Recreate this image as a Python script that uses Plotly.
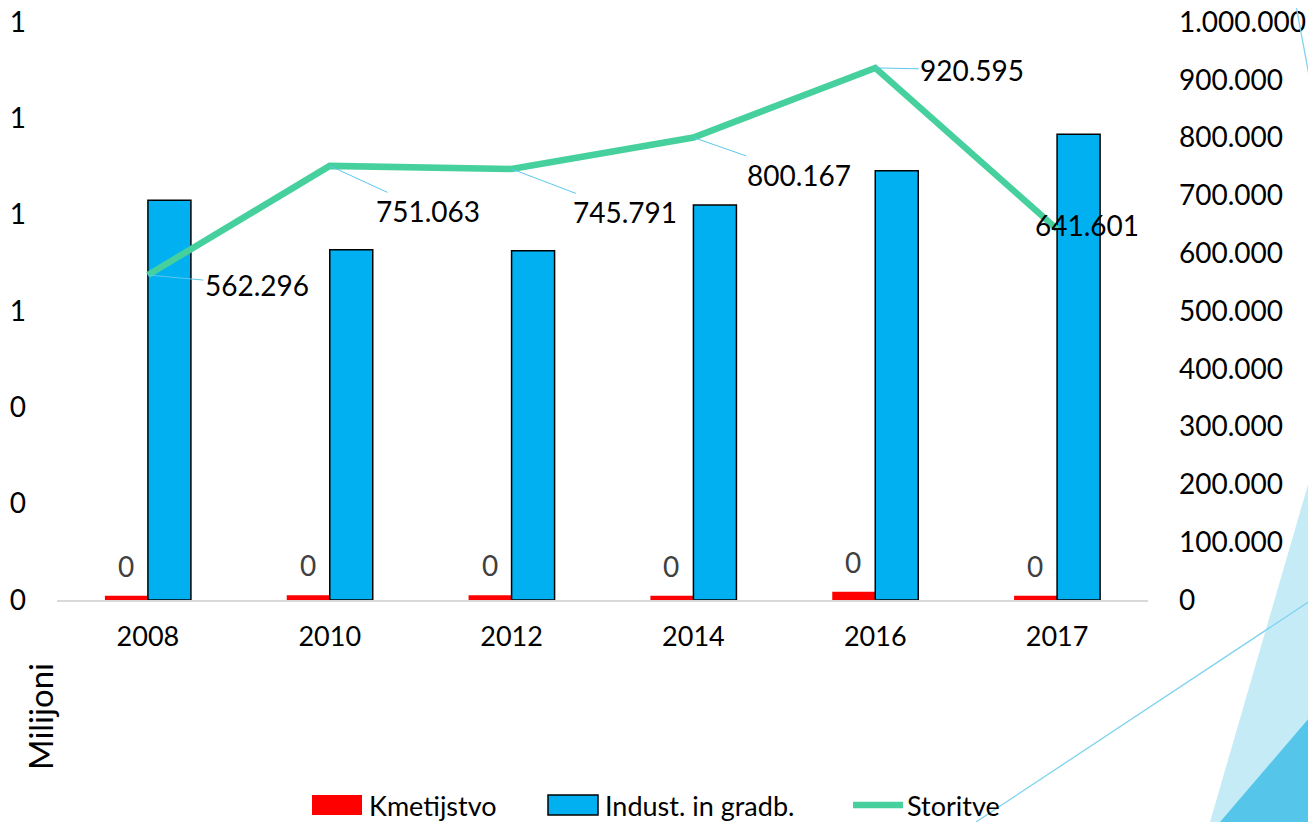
import plotly.graph_objects as go

# Data
years = ["2008", "2010", "2012", "2014", "2016", "2017"]
kmetijstvo = [0.009, 0.010, 0.010, 0.009, 0.017, 0.009]       # milijoni
industrija = [0.830, 0.727, 0.725, 0.820, 0.891, 0.967]       # milijoni
storitve = [562296, 751063, 745791, 800167, 920595, 641601]

series_names = ["Kmetijstvo", "Indust. in gradb.", "Storitve"]
colors = ["#FF0000", "#00B0F0", "#45D09E"]

# label offsets (pixels) for the Storitve data labels
label_offsets = [(109, 10), (98, 45), (113, 43), (106, 37), (97, 2), (30, -4)]

FONT = "Lato"
PAGE = 8                      # default body margin of the html page
W, H = 1316 - PAGE, 822 - PAGE
# plot area in page pixels: x 57..1148, y 22..600
X0, X1, Y0, Y1 = 57, 1148, 22, 600
L, R, T, B = X0 - PAGE, 1316 - X1, Y0 - PAGE, 822 - Y1


def px(x):
    return (x - X0) / (X1 - X0)


def py(y):
    return (Y1 - y) / (Y1 - Y0)


fig = go.Figure()

fig.add_trace(go.Bar(
    x=years, y=kmetijstvo, name=series_names[0],
    marker=dict(color=colors[0], line=dict(width=0)),
))
fig.add_trace(go.Bar(
    x=years, y=industrija, name=series_names[1],
    marker=dict(color=colors[1], line=dict(color="#000000", width=1.5)),
))
fig.add_trace(go.Scatter(
    x=years, y=storitve, name=series_names[2], yaxis="y2",
    mode="lines", line=dict(color=colors[2], width=6.5),
))

annotations = []
# "0" labels above the red bars (x given as category index)
for i, v in enumerate(kmetijstvo):
    annotations.append(dict(
        x=i, y=v, xref="x", yref="y", text=f"{v:.0f}",
        showarrow=False, xshift=-22, yshift=30, yanchor="middle", xanchor="center",
        font=dict(family=FONT, size=28, color="#404040"),
    ))

# Storitve data labels with leader lines
for i, (v, (ax, ay)) in enumerate(zip(storitve, label_offsets)):
    txt = f"{v:,}".replace(",", ".")
    if i == len(storitve) - 1:
        annotations.append(dict(
            x=i, y=v, xref="x", yref="y2", text=txt, showarrow=False,
            xanchor="center", yanchor="middle",
            xshift=ax, yshift=-ay, font=dict(family=FONT, size=28, color="#000000"),
        ))
    else:
        annotations.append(dict(
            x=i, y=v, xref="x", yref="y2", text=txt, showarrow=True,
            arrowhead=0, arrowwidth=1, arrowcolor="#5BC8EE", ax=ax, ay=ay,
            standoff=0, font=dict(family=FONT, size=28, color="#000000"),
        ))

annotations.append(dict(
    x=px(40), y=py(717), xref="paper", yref="paper", text="Milijoni",
    textangle=-90, showarrow=False, xanchor="center", yanchor="middle",
    font=dict(family=FONT, size=33, color="#000000"),
))

# decorative template shapes on the right
shapes = [
    dict(type="path", xref="paper", yref="paper", layer="below",
         path=f"M {px(1210)} {py(822)} L {px(1316)} {py(457)} L {px(1316)} {py(822)} Z",
         fillcolor="#C5EBF7", line=dict(width=0)),
    dict(type="path", xref="paper", yref="paper", layer="below",
         path=f"M {px(1220)} {py(822)} L {px(1316)} {py(710)} L {px(1316)} {py(822)} Z",
         fillcolor="#56C5EA", line=dict(width=0)),
    dict(type="line", xref="paper", yref="paper",
         x0=px(1316), y0=py(597), x1=px(976), y1=py(822),
         line=dict(color="#7FD3F0", width=1.3)),
    dict(type="line", xref="paper", yref="paper",
         x0=px(1295), y0=py(0), x1=px(1316), y1=py(113),
         line=dict(color="#7FD3F0", width=1.3)),
]

# legend drawn by hand (wide swatches like the original)
legend_y = 805
swatch_x = [312, 548, 850]
shapes.append(dict(type="rect", xref="paper", yref="paper",
                   x0=px(312), x1=px(362), y0=py(815), y1=py(795),
                   fillcolor=colors[0], line=dict(width=0)))
shapes.append(dict(type="rect", xref="paper", yref="paper",
                   x0=px(548), x1=px(598), y0=py(815), y1=py(795),
                   fillcolor=colors[1], line=dict(color="#000000", width=1.5)))
shapes.append(dict(type="line", xref="paper", yref="paper",
                   x0=px(853), x1=px(903), y0=py(805), y1=py(805),
                   line=dict(color=colors[2], width=6.5)))
for name, sx in zip(series_names, swatch_x):
    annotations.append(dict(
        x=px(sx + 55), y=py(legend_y), xref="paper", yref="paper", text=name,
        showarrow=False, xanchor="left", yanchor="middle",
        font=dict(family=FONT, size=27, color="#000000"),
    ))

fig.update_layout(
    width=W, height=H,
    margin=dict(l=L, r=R, t=T, b=B, autoexpand=False),
    paper_bgcolor="white", plot_bgcolor="white",
    separators=",.",
    font=dict(family=FONT, size=27, color="#000000"),
    barmode="group", bargap=0.527, bargroupgap=0,
    showlegend=False,
    xaxis=dict(
        type="category", range=[-0.5, len(years) - 0.5], automargin=False,
        showgrid=False, zeroline=False, showline=True, linecolor="#D9D9D9",
        linewidth=2, ticks="", tickfont=dict(family=FONT, size=27),
        ticklabelstandoff=12,
    ),
    yaxis=dict(
        range=[0, 1.2], dtick=0.2, tickformat=".0f", showgrid=False,
        zeroline=False, showline=False, ticks="", automargin=False,
        ticklabeloverflow="allow",
        tickfont=dict(family=FONT, size=28), ticklabelstandoff=30,
    ),
    yaxis2=dict(
        range=[0, 1000000], dtick=100000, tickformat=",d", overlaying="y",
        side="right", showgrid=False, zeroline=False, showline=False, ticks="",
        automargin=False, ticklabeloverflow="allow",
        tickfont=dict(family=FONT, size=28), ticklabelstandoff=30,
    ),
    annotations=annotations,
    shapes=shapes,
)

fig.write_html("out.html")
